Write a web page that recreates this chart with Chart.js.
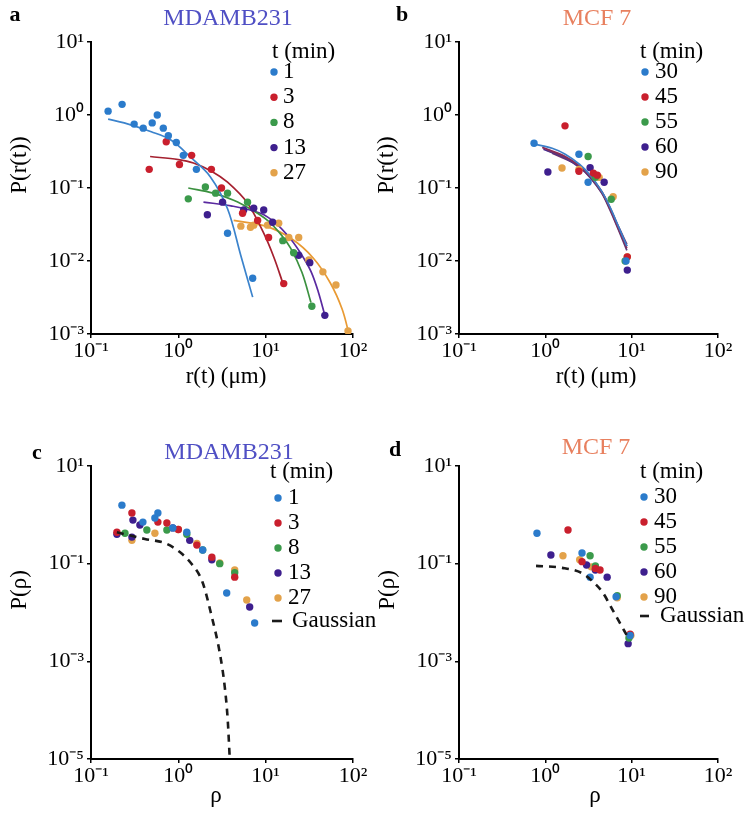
<!DOCTYPE html>
<html><head><meta charset="utf-8">
<script src="https://cdn.jsdelivr.net/npm/chart.js@4"></script>
<style>
html,body{margin:0;padding:0;background:#fff;width:751px;height:815px;overflow:hidden;}
canvas{position:absolute;}
</style></head><body>
<canvas id="ca" width="375" height="400" style="left:0;top:0"></canvas>
<canvas id="cc" width="390" height="415" style="left:0;top:400px"></canvas>
<canvas id="cb" width="376" height="400" style="left:375px;top:0"></canvas>
<canvas id="cd" width="376" height="415" style="left:375px;top:400px"></canvas>
<script>
// ---------- tick values ----------
const xTicks = [0.1, 1, 10, 100];
const yTicksTop = [0.001, 0.01, 0.1, 1, 10];
const yTicksBottom = [0.00001, 0.001, 0.1, 10];

// ---------- categories ----------
const timesMDA = ['1', '3', '8', '13', '27'];
const timesMCF = ['30', '45', '55', '60', '90'];

// ---------- panel a : P(r(t)) vs r(t), MDAMB231 ----------
const a_pts_1  = [[0.157,1.13],[0.227,1.40],[0.312,0.75],[0.396,0.66],[0.502,0.78],[0.574,1.0],[0.673,0.66],[0.768,0.52],[0.948,0.42],[1.14,0.28],[1.61,0.18],[3.66,0.024],[7.1,0.0058]];
const a_pts_3  = [[0.464,0.18],[0.727,0.43],[1.03,0.21],[1.42,0.28],[2.39,0.18],[3.12,0.10],[5.44,0.045],[8.09,0.036],[10.8,0.021],[16.1,0.0049]];
const a_pts_8  = [[1.30,0.071],[2.04,0.103],[2.67,0.085],[3.66,0.085],[6.2,0.064],[15.7,0.019],[20.9,0.013],[33.8,0.0024]];
const a_pts_13 = [[2.15,0.043],[3.21,0.064],[5.6,0.05],[7.3,0.053],[9.5,0.050],[12.0,0.034],[23.9,0.012],[32.0,0.0095],[47.6,0.0018]];
const a_pts_27 = [[5.2,0.030],[6.7,0.029],[7.3,0.031],[10.5,0.031],[14.1,0.033],[18.4,0.021],[23.9,0.021],[31.2,0.0103],[45.2,0.0071],[63.8,0.0047],[87.7,0.0011]];
const a_fit_1  = [[0.157,0.88],[0.24,0.78],[0.49,0.59],[0.83,0.45],[1.4,0.26],[2.33,0.142],[3.66,0.052],[5.18,0.012],[7.1,0.0032]];
const a_fit_3  = [[0.475,0.27],[1.0,0.245],[1.49,0.22],[2.4,0.17],[3.66,0.12],[6.2,0.062],[9.5,0.024],[12.5,0.011],[15.7,0.005]];
const a_fit_8  = [[1.3,0.10],[2.5,0.085],[4.3,0.068],[7.0,0.05],[10.5,0.036],[15.0,0.023],[19.3,0.015],[26.0,0.007],[33.0,0.0027]];
const a_fit_13 = [[1.94,0.064],[4.0,0.057],[8.7,0.045],[13.0,0.033],[19.3,0.02],[26.0,0.012],[33.0,0.0072],[40.0,0.0038],[47.6,0.0018]];
const a_fit_27 = [[4.3,0.036],[10.0,0.030],[20.0,0.020],[35.0,0.011],[55.0,0.005],[75.0,0.0022],[90.0,0.001]];

// ---------- panel b : P(r(t)) vs r(t), MCF 7 ----------
const b_pts_30 = [[0.74,0.41],[2.45,0.29],[3.13,0.12],[8.6,0.010]];
const b_pts_45 = [[1.69,0.71],[2.45,0.17],[3.6,0.16],[4.0,0.15],[8.9,0.0114]];
const b_pts_55 = [[3.13,0.27],[3.8,0.14],[5.8,0.07],[8.4,0.010]];
const b_pts_60 = [[1.07,0.166],[3.3,0.19],[4.8,0.12],[8.9,0.0075]];
const b_pts_90 = [[1.56,0.188],[2.45,0.18],[4.2,0.14],[6.1,0.076],[8.9,0.0114]];
const b_fit_30 = [[0.74,0.40],[1.2,0.35],[1.7,0.29],[2.5,0.21],[3.3,0.15],[4.5,0.09],[5.6,0.055],[7.0,0.03],[8.8,0.016]];
const b_fit_45 = [[0.92,0.36],[1.7,0.27],[2.5,0.20],[3.3,0.145],[4.5,0.088],[5.6,0.052],[7.0,0.028],[8.8,0.015]];
const b_fit_55 = [[1.05,0.33],[1.7,0.26],[2.5,0.195],[3.3,0.14],[4.5,0.085],[5.6,0.05],[7.0,0.027],[8.8,0.014]];
const b_fit_60 = [[0.95,0.34],[1.7,0.255],[2.5,0.19],[3.3,0.14],[4.5,0.087],[5.6,0.053],[7.0,0.029],[8.8,0.016]];
const b_fit_90 = [[1.2,0.30],[2.5,0.20],[3.3,0.145],[4.5,0.09],[5.6,0.054],[7.0,0.030],[8.8,0.017]];

// ---------- panel c : P(rho) vs rho, MDAMB231 ----------
const c_pts_1  = [[0.226,1.58],[0.393,0.71],[0.539,0.86],[0.583,1.09],[0.865,0.54],[1.25,0.44],[1.9,0.19],[3.58,0.025],[7.48,0.0061]];
const c_pts_3  = [[0.198,0.44],[0.294,1.09],[0.583,0.71],[0.739,0.68],[1.0,0.50],[1.63,0.24],[2.42,0.136],[4.42,0.053]];
const c_pts_8  = [[0.245,0.42],[0.436,0.49],[0.739,0.49],[1.25,0.40],[1.9,0.19],[2.98,0.10],[4.42,0.065]];
const c_pts_13 = [[0.198,0.40],[0.294,0.35],[0.302,0.78],[0.363,0.62],[0.865,0.54],[1.35,0.30],[2.42,0.12],[6.56,0.013]];
const c_pts_27 = [[0.294,0.30],[0.539,0.42],[1.0,0.50],[1.63,0.26],[2.98,0.103],[4.42,0.074],[6.07,0.018]];
const c_gauss  = [[0.198,0.44],[0.414,0.32],[0.70,0.264],[1.04,0.173],[1.43,0.097],[1.88,0.043],[2.42,0.0081],[2.98,0.0015],[3.40,0.0003],[3.68,0.000062],[3.88,0.00001]];

// ---------- panel d : P(rho) vs rho, MCF 7 ----------
const d_pts_30 = [[0.80,0.42],[2.66,0.165],[3.3,0.053],[6.6,0.021],[9.6,0.0034]];
const d_pts_45 = [[1.83,0.49],[2.66,0.11],[3.8,0.08],[4.3,0.074],[9.6,0.0036]];
const d_pts_55 = [[3.3,0.145],[3.8,0.09],[6.8,0.022],[9.3,0.0030]];
const d_pts_60 = [[1.16,0.15],[3.0,0.094],[3.8,0.074],[5.2,0.053],[9.1,0.0023]];
const d_pts_90 = [[1.6,0.145],[2.5,0.12],[3.4,0.086],[6.8,0.020],[9.8,0.0034]];
const d_gauss  = [[0.78,0.090],[1.57,0.082],[2.66,0.064],[3.4,0.046],[4.6,0.026],[5.9,0.012],[7.3,0.0061],[8.8,0.0034]];

// ---------- styles ----------
const FONT = "'Liberation Serif', 'Times New Roman', serif";
const dotColors  = ['#2b7bcb', '#c91f2d', '#3b9a4b', '#3e1f8e', '#e3a24a'];
const lineColors = ['#3b83cc', '#a5202f', '#3b913f', '#5a2aa0', '#e99a33'];
const bLineColors = ['#3b7fc8', '#8a2a55', '#5a3a7a', '#4a2a90', '#7a3a6a'];

const SUP = {'-':'\u207B','0':'\u2070','1':'\u00B9','2':'\u00B2','3':'\u00B3','4':'\u2074','5':'\u2075'};
function supLabel(v){
  const e = Math.round(Math.log10(v));
  return '10' + String(e).split('').map(c => SUP[c]).join('');
}
function pts(arr){ return arr.map(([x, y]) => ({x, y})); }
function dots(label, arr, color){
  return {label, data: pts(arr), backgroundColor: color, borderColor: color,
          pointRadius: 3.7, pointHoverRadius: 3.7, borderWidth: 0, showLine: false, order: 1};
}
function fit(label, arr, color){
  return {label: label + ' fit', data: pts(arr), borderColor: color, backgroundColor: color,
          borderWidth: 1.7, pointRadius: 0, showLine: true, tension: 0.35, order: 2};
}
function gauss(arr){
  return {label: 'Gaussian', data: pts(arr), borderColor: '#1a1a1a', backgroundColor: '#1a1a1a',
          borderWidth: 2.6, borderDash: [7, 6], pointRadius: 0, showLine: true,
          cubicInterpolationMode: 'monotone', order: 0};
}
function logScale(axis, min, max, vals, size){
  return {
    type: 'logarithmic', min, max, position: axis === 'x' ? 'bottom' : 'left',
    afterBuildTicks: s => { s.ticks = vals.map(v => ({value: v, major: true})); },
    afterFit: s => { if (axis === 'x') s.height = size; else s.width = size; },
    ticks: {autoSkip: false, maxRotation: 0, minRotation: 0, color: '#000',
            font: {family: FONT, size: 22}, padding: axis === 'x' ? 0 : 3,
            callback: v => supLabel(v)},
    grid: {drawOnChartArea: false, drawTicks: true, tickLength: 4, color: '#000', lineWidth: 1.5},
    border: {display: true, color: '#000', width: 2}
  };
}
function decor(c){
  return {id: 'decor', afterDraw(chart){
    const ctx = chart.ctx;
    ctx.save();
    ctx.textBaseline = 'middle';
    ctx.fillStyle = '#000';
    ctx.font = 'bold 22px ' + FONT; ctx.textAlign = 'center';
    ctx.fillText(c.letter, c.letterPos[0], c.letterPos[1]);
    ctx.font = '24px ' + FONT; ctx.fillStyle = c.titleColor;
    ctx.fillText(c.title, c.titlePos[0], c.titlePos[1]);
    ctx.fillStyle = '#000'; ctx.font = '23px ' + FONT;
    ctx.fillText(c.xTitle, c.xTitlePos[0], c.xTitlePos[1]);
    ctx.save(); ctx.translate(c.yTitlePos[0], c.yTitlePos[1]); ctx.rotate(-Math.PI / 2);
    ctx.fillText(c.yTitle, 0, 0); ctx.restore();
    // legend
    ctx.textAlign = 'left'; ctx.font = '23px ' + FONT;
    ctx.fillText('t (min)', c.legX, c.legHeadY);
    c.legItems.forEach((lab, i) => {
      const y = c.legY0 + i * c.legStep;
      ctx.fillStyle = c.legColors[i];
      ctx.beginPath(); ctx.arc(c.dotX, y, 3.7, 0, Math.PI * 2); ctx.fill();
      ctx.fillStyle = '#000';
      ctx.fillText(lab, c.textX, y);
    });
    if (c.gaussY){
      ctx.strokeStyle = '#1a1a1a'; ctx.lineWidth = 2.6;
      ctx.beginPath(); ctx.moveTo(c.dashX[0], c.gaussY); ctx.lineTo(c.dashX[1], c.gaussY); ctx.stroke();
      ctx.fillText('Gaussian', c.gaussTextX, c.gaussY);
    }
    ctx.restore();
  }};
}
function makeChart(id, datasets, yMin, yMax, yVals, geo, deco){
  const cv = document.getElementById(id);
  return new Chart(cv, {
    type: 'scatter',
    data: {datasets},
    options: {
      responsive: false, animation: false, events: [],
      layout: {padding: {left: 0, top: geo.top, right: cv.width - geo.right, bottom: 0}},
      plugins: {legend: {display: false}, tooltip: {enabled: false}, title: {display: false}},
      scales: {
        x: logScale('x', 0.1, 100, xTicks, cv.height - geo.bottom),
        y: logScale('y', yMin, yMax, yVals, geo.left)
      }
    },
    plugins: [decor(deco)]
  });
}

// panel a
const aPts = [a_pts_1, a_pts_3, a_pts_8, a_pts_13, a_pts_27];
const aFit = [a_fit_1, a_fit_3, a_fit_8, a_fit_13, a_fit_27];
makeChart('ca',
  timesMDA.map((t, i) => dots(t, aPts[i], dotColors[i])).concat(timesMDA.map((t, i) => fit(t, aFit[i], lineColors[i]))),
  0.001, 10, yTicksTop, {left: 91, right: 353, top: 42, bottom: 334},
  {letter: 'a', letterPos: [15, 15], title: 'MDAMB231', titleColor: '#4f4fc4', titlePos: [228, 19],
   xTitle: 'r(t) (\u03BCm)', xTitlePos: [226, 377], yTitle: 'P(r(t))', yTitlePos: [20, 165],
   legX: 272, legHeadY: 52, legItems: timesMDA, legColors: dotColors, dotX: 274, textX: 283, legY0: 72, legStep: 25.2});

// panel b
const bPts = [b_pts_30, b_pts_45, b_pts_55, b_pts_60, b_pts_90];
const bFit = [b_fit_30, b_fit_45, b_fit_55, b_fit_60, b_fit_90];
makeChart('cb',
  timesMCF.map((t, i) => dots(t, bPts[i], dotColors[i])).concat(timesMCF.map((t, i) => fit(t, bFit[i], bLineColors[i]))),
  0.001, 10, yTicksTop, {left: 84, right: 343, top: 42, bottom: 334},
  {letter: 'b', letterPos: [27, 15], title: 'MCF 7', titleColor: '#e8805f', titlePos: [222, 19],
   xTitle: 'r(t) (\u03BCm)', xTitlePos: [221, 377], yTitle: 'P(r(t))', yTitlePos: [12, 165],
   legX: 265, legHeadY: 52, legItems: timesMCF, legColors: dotColors, dotX: 270, textX: 280, legY0: 72, legStep: 25});

// panel c
const cPts = [c_pts_1, c_pts_3, c_pts_8, c_pts_13, c_pts_27];
makeChart('cc',
  timesMDA.map((t, i) => dots(t, cPts[i], dotColors[i])).concat([gauss(c_gauss)]),
  0.00001, 10, yTicksBottom, {left: 91, right: 353, top: 66, bottom: 359},
  {letter: 'c', letterPos: [37, 53], title: 'MDAMB231', titleColor: '#4f4fc4', titlePos: [229, 53],
   xTitle: '\u03C1', xTitlePos: [216, 396], yTitle: 'P(\u03C1)', yTitlePos: [20, 190],
   legX: 270, legHeadY: 72, legItems: timesMDA, legColors: dotColors, dotX: 278, textX: 288, legY0: 98, legStep: 25,
   gaussY: 221, dashX: [272, 282], gaussTextX: 292});

// panel d
const dPts = [d_pts_30, d_pts_45, d_pts_55, d_pts_60, d_pts_90];
makeChart('cd',
  timesMCF.map((t, i) => dots(t, dPts[i], dotColors[i])).concat([gauss(d_gauss)]),
  0.00001, 10, yTicksBottom, {left: 84, right: 343, top: 66, bottom: 359},
  {letter: 'd', letterPos: [20, 50], title: 'MCF 7', titleColor: '#e8805f', titlePos: [221, 48],
   xTitle: '\u03C1', xTitlePos: [220, 396], yTitle: 'P(\u03C1)', yTitlePos: [13, 190],
   legX: 265, legHeadY: 72, legItems: timesMCF, legColors: dotColors, dotX: 269, textX: 279, legY0: 97, legStep: 25,
   gaussY: 216, dashX: [265, 274], gaussTextX: 285});
</script>
</body></html>
